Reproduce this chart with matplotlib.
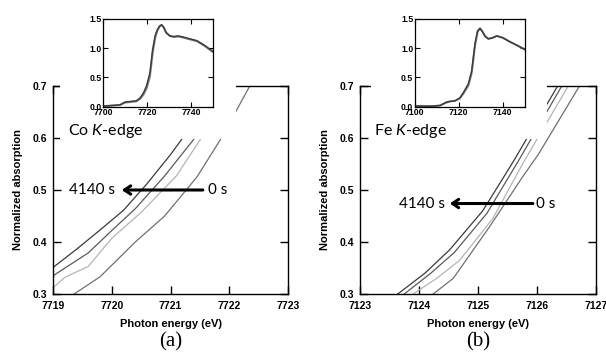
import matplotlib
matplotlib.use("Agg")
import matplotlib.pyplot as plt
from matplotlib.patches import Rectangle

# ---- main panels: zoom on the edge, 4 spectra each (0 s ... 4140 s)
co_x = [
    [7719.0, 7719.4, 7719.8, 7720.2, 7720.6, 7721.0, 7721.4, 7721.8],
    [7719.0, 7719.6, 7720.0, 7720.4, 7720.9, 7721.4, 7721.9],
    [7719.0, 7719.2, 7719.6, 7720.0, 7720.5, 7721.1, 7721.5, 7722.1],
    [7719.0, 7719.36, 7719.8, 7720.4, 7720.9, 7721.45, 7721.85, 7722.35],
]
co_y = [
    [0.351, 0.386, 0.423, 0.461, 0.512, 0.568, 0.630, 0.700],
    [0.335, 0.379, 0.422, 0.464, 0.527, 0.598, 0.680],
    [0.312, 0.332, 0.353, 0.407, 0.457, 0.527, 0.596, 0.700],
    [0.273, 0.300, 0.333, 0.400, 0.450, 0.525, 0.597, 0.700],
]
fe_x = [
    [7123.3, 7123.64, 7124.10, 7124.52, 7125.08, 7125.60, 7126.35],
    [7123.4, 7123.75, 7124.20, 7124.60, 7125.15, 7125.68, 7126.42],
    [7123.5, 7123.90, 7124.30, 7124.69, 7125.25, 7125.78, 7126.53],
    [7123.9, 7124.24, 7124.58, 7125.20, 7125.76, 7126.02, 7126.72],
]
fe_y = [
    [0.267, 0.300, 0.340, 0.385, 0.460, 0.555, 0.700],
    [0.267, 0.300, 0.340, 0.380, 0.455, 0.555, 0.700],
    [0.268, 0.300, 0.330, 0.365, 0.445, 0.555, 0.700],
    [0.270, 0.300, 0.330, 0.430, 0.526, 0.568, 0.700],
]
line_colors = ["#3a3a3a", "#5a5a5a", "#b4b4b4", "#707070"]

co_xticks = [7719, 7720, 7721, 7722, 7723]
fe_xticks = [7123, 7124, 7125, 7126, 7127]
yticks = [0.3, 0.4, 0.5, 0.6, 0.7]

# ---- insets: full XANES, 4140 s (dark) and 0 s (grey)
co_e = [7700, 7704, 7707.6, 7709.9, 7712.5, 7715, 7716.7, 7718.2, 7719.7, 7721.2,
        7722.4, 7723.6, 7724.6, 7725.6, 7726.5, 7727.5, 7728.6, 7730.3, 7732,
        7734.1, 7736.5, 7739.4, 7742.5, 7746, 7750]
co_mu_end = [0.01, 0.02, 0.03, 0.08, 0.09, 0.10, 0.15, 0.23, 0.36, 0.58, 0.97, 1.22,
             1.32, 1.38, 1.40, 1.35, 1.26, 1.21, 1.20, 1.21, 1.19, 1.16, 1.13, 1.05, 0.94]
co_mu_start = [0.01, 0.02, 0.03, 0.07, 0.08, 0.09, 0.13, 0.20, 0.31, 0.51, 0.90, 1.18,
               1.30, 1.37, 1.40, 1.36, 1.27, 1.21, 1.19, 1.20, 1.18, 1.15, 1.12, 1.04, 0.93]
fe_e = [7100, 7108, 7111.5, 7114.5, 7116, 7118.3, 7120.5, 7122.1, 7124.4, 7125.9,
        7127.4, 7128.6, 7129.7, 7130.8, 7132, 7133.5, 7135.5, 7137.3, 7140, 7143.3,
        7146.5, 7150]
fe_mu_end = [0.01, 0.01, 0.02, 0.08, 0.09, 0.10, 0.15, 0.24, 0.39, 0.61, 1.08, 1.30,
             1.34, 1.28, 1.20, 1.16, 1.18, 1.21, 1.18, 1.11, 1.05, 0.98]
fe_mu_start = [0.01, 0.01, 0.02, 0.07, 0.09, 0.10, 0.14, 0.22, 0.36, 0.57, 1.03, 1.28,
               1.34, 1.29, 1.21, 1.16, 1.18, 1.21, 1.18, 1.11, 1.05, 0.98]

plt.rcParams["mathtext.fontset"] = "custom"
plt.rcParams["mathtext.rm"] = "Lato"
plt.rcParams["mathtext.it"] = "Lato:italic"

TICKFONT = dict(family="Liberation Sans", weight="bold")
TEXTFONT = ["Lato", "DejaVu Sans"]

fig = plt.figure(figsize=(6.06, 3.54), dpi=100)


def main_panel(rect, xs, ys, xticks, label):
    ax = fig.add_axes(rect)
    for x, y, c in zip(xs, ys, line_colors):
        ax.plot(x, y, color=c, lw=0.9)
    ax.set_xlim(xticks[0], xticks[-1])
    ax.set_ylim(0.3, 0.7)
    ax.set_xticks(xticks)
    ax.set_yticks(yticks)
    ax.set_xticklabels([str(t) for t in xticks], fontsize=7.5, **TICKFONT)
    ax.set_yticklabels(["%.1f" % t for t in yticks], fontsize=7.5, **TICKFONT)
    ax.tick_params(direction="in", length=6, width=1, right=True, top=True)
    ax.tick_params(axis="x", pad=5)
    ax.tick_params(axis="y", pad=4)
    for s in ax.spines.values():
        s.set_linewidth(1)
    ax.set_xlabel("Photon energy (eV)", fontsize=8, labelpad=6, **TICKFONT)
    ax.set_ylabel("Normalized absorption", fontsize=8, labelpad=7, **TICKFONT)
    ax.text(0.5, -0.23, label, transform=ax.transAxes, ha="center", va="center",
            fontsize=15, family="Liberation Serif")
    return ax


def inset(rect, e, mu0, mu1, xticks):
    ax = fig.add_axes(rect)
    ax.set_zorder(3)
    ax.plot(e, mu0, color="#8a8a8a", lw=1.4)
    ax.plot(e, mu1, color="#3c3c3c", lw=1.1)
    ax.set_xlim(xticks[0], xticks[-1] + 10)
    ax.set_ylim(0, 1.5)
    ax.set_xticks(xticks)
    ax.set_yticks([0, 0.5, 1.0, 1.5])
    ax.set_xticklabels([str(t) for t in xticks], fontsize=6.3, **TICKFONT)
    ax.set_yticklabels(["0.0", "0.5", "1.0", "1.5"], fontsize=6.3, **TICKFONT)
    ax.tick_params(direction="in", length=3.5, width=0.8, right=True, top=True, pad=1)
    for s in ax.spines.values():
        s.set_linewidth(0.9)
    return ax


# panel (a) Co
ax1 = main_panel([53 / 606, 60 / 354, 235 / 606, 208 / 354], co_x, co_y, co_xticks, "(a)")
ax1.annotate("", xy=(7720.17, 0.5), xytext=(7721.55, 0.5),
             arrowprops=dict(arrowstyle="->,head_length=0.45,head_width=0.3",
                             lw=2.2, color="black", shrinkA=0, shrinkB=0))
ax1.text(7720.06, 0.5, "4140 s", ha="right", va="center", fontsize=11, family=TEXTFONT)
ax1.text(7721.63, 0.5, "0 s", ha="left", va="center", fontsize=11, family=TEXTFONT)

# panel (b) Fe
ax2 = main_panel([360 / 606, 60 / 354, 236 / 606, 208 / 354], fe_x, fe_y, fe_xticks, "(b)")
ax2.annotate("", xy=(7124.52, 0.474), xytext=(7125.93, 0.474),
             arrowprops=dict(arrowstyle="->,head_length=0.45,head_width=0.3",
                             lw=2.2, color="black", shrinkA=0, shrinkB=0))
ax2.text(7124.44, 0.474, "4140 s", ha="right", va="center", fontsize=11, family=TEXTFONT)
ax2.text(7125.98, 0.474, "0 s", ha="left", va="center", fontsize=11, family=TEXTFONT)

# white boxes that hold the insets (they cover part of the main axes)
for x0 in (60, 371):
    fig.add_artist(Rectangle((x0 / 606, 1 - 139 / 354), 176 / 606, 139 / 354,
                             transform=fig.transFigure, facecolor="white",
                             edgecolor="none", zorder=2))

inset([103.3 / 606, 1 - 106.7 / 354, 110 / 606, 87.7 / 354],
      co_e, co_mu_start, co_mu_end, [7700, 7720, 7740])
inset([414.7 / 606, 1 - 106.7 / 354, 110 / 606, 87.7 / 354],
      fe_e, fe_mu_start, fe_mu_end, [7100, 7120, 7140])

t1 = fig.text(68 / 606, 1 - 131 / 354, "Co $\\mathit{K}$-edge", ha="left", va="center",
              fontsize=11.5, family=TEXTFONT)
t2 = fig.text(374 / 606, 1 - 131 / 354, "Fe $\\mathit{K}$-edge", ha="left", va="center",
              fontsize=11.5, family=TEXTFONT)
t1.set_zorder(4)
t2.set_zorder(4)

fig.savefig("out.png", dpi=100)
